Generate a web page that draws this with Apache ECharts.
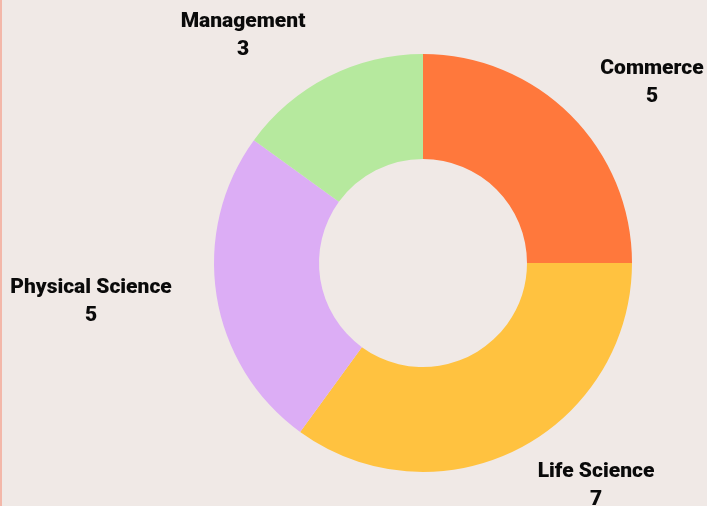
<!DOCTYPE html>
<html><head><meta charset="utf-8">
<script src="https://cdn.jsdelivr.net/npm/echarts@6/dist/echarts.min.js"></script>
<style>html,body{margin:0;padding:0;background:#f0e9e6;}#c{width:707px;height:506px;box-sizing:border-box;border-left:2px solid #f3b7a9;}</style>
</head><body><div id="c"></div>
<script>
const categories = ["Commerce", "Life Science", "Physical Science", "Management"];
const values = [5, 7, 5, 3];
const colors = ["#ff783c", "#ffc240", "#dcadf5", "#b6e99e"];
// label block centers relative to pie center
const labelOffsets = [[229, -180], [173, 223], [-332, 39], [-180, -227]];

const chart = echarts.init(document.getElementById('c'));
chart.setOption({
  backgroundColor: '#f0e9e6',
  series: [{
    type: 'pie',
    center: [421, 263],
    radius: [104, 209],
    startAngle: 90,
    clockwise: true,
    silent: true,
    data: categories.map((n, i) => ({ name: n, value: values[i], itemStyle: { color: colors[i] } })),
    label: {
      show: true,
      position: 'outside',
      formatter: '{b}\n{c}',
      fontFamily: 'Roboto',
      fontWeight: 900,
      fontSize: 21,
      lineHeight: 28,
      color: '#0a0a0a',
      align: 'center',
      overflow: 'none'
    },
    labelLine: { show: false },
    labelLayout: function (p) {
      const o = labelOffsets[p.dataIndex];
      return { x: 421 + o[0], y: 263 + o[1], align: 'center', verticalAlign: 'middle', hideOverlap: false };
    }
  }]
});
</script></body></html>
